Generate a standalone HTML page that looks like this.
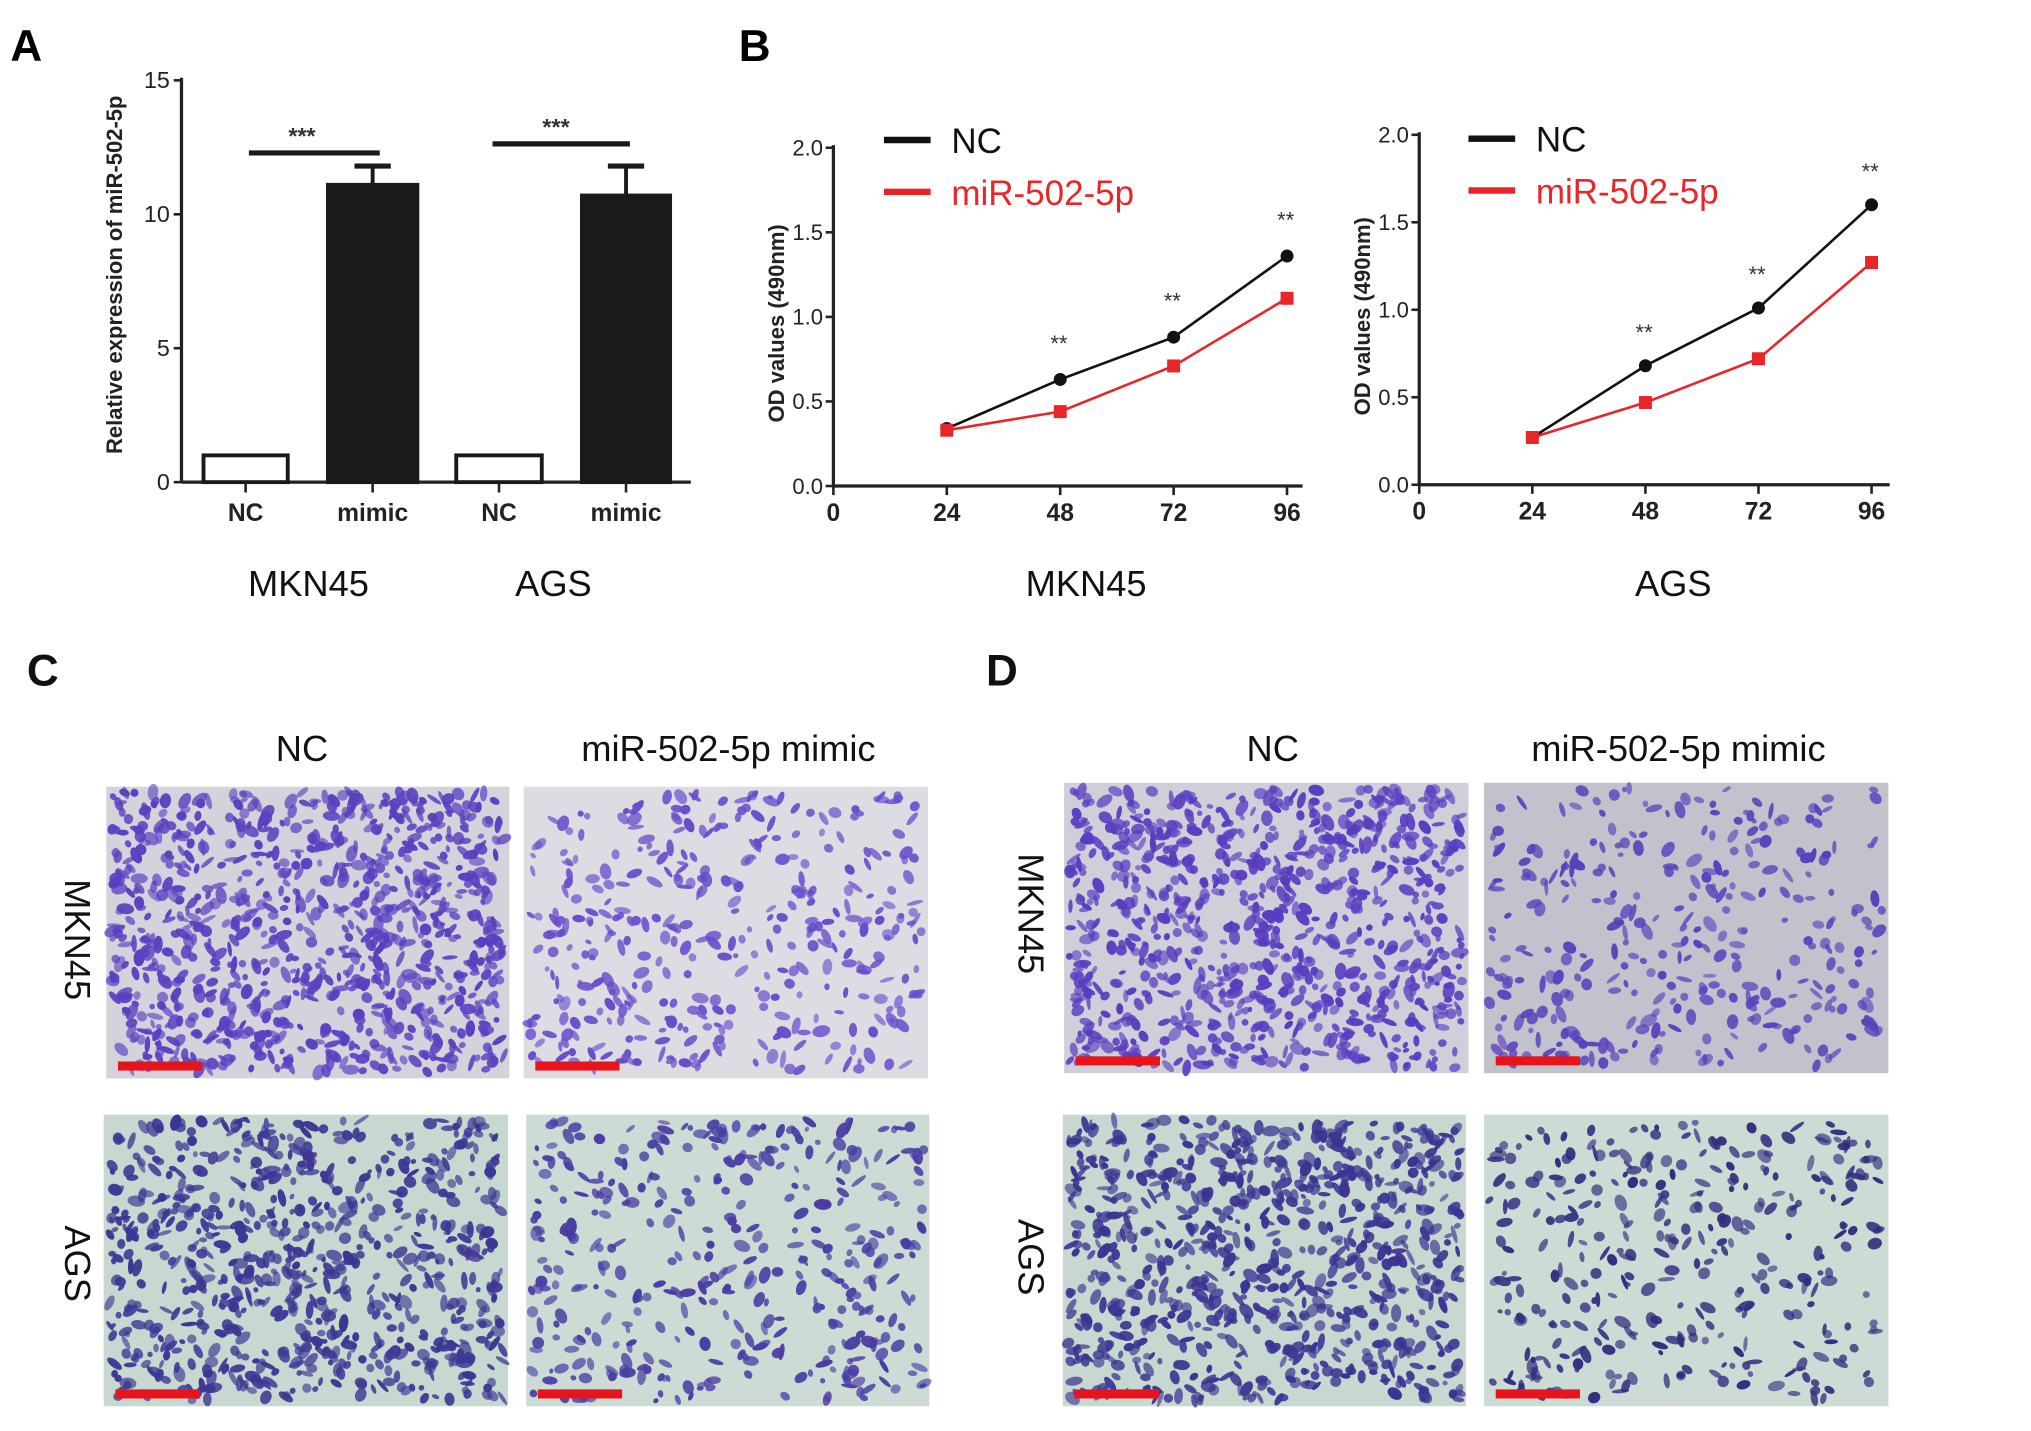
<!DOCTYPE html>
<html><head><meta charset="utf-8"><style>
html,body{margin:0;padding:0;background:#fff}
svg{display:block}
text{font-family:"Liberation Sans",sans-serif}
</style></head><body>
<svg id="fig" width="2031" height="1431" viewBox="0 0 1567 1104.1" xmlns="http://www.w3.org/2000/svg">
<g id="A"></g>
<g id="B"></g>
<g id="CD"></g>
</svg>
<script>
// Panel A data
const barCats = ["NC","mimic","NC","mimic"];
const barVals = [1, 11.1, 1, 10.7];
const barErrs = [0, 0.7, 0, 1.1];
const aTicks = [0,5,10,15];
// Panel B data
const timeCats = [24,48,72,96];
const xTicks = [0,24,48,72,96];
const yTicks = [0,0.5,1.0,1.5,2.0];
const mknNC = [0.34,0.63,0.88,1.36];
const mknMiR = [0.33,0.44,0.71,1.11];
const agsNC = [0.27,0.68,1.01,1.60];
const agsMiR = [0.27,0.47,0.72,1.27];

const NS="http://www.w3.org/2000/svg";
function mk(parent,tag,attrs,txt){const e=document.createElementNS(NS,tag);for(const k in attrs)e.setAttribute(k,attrs[k]);if(txt!==undefined)e.textContent=txt;parent.appendChild(e);return e;}

// ---------- Panel A ----------
const A=document.getElementById('A');
let t=mk(A,'text',{x:8,y:47,'font-size':34,'font-weight':'bold'},'A');


const aY=v=>372-(v/15)*310;
const barX=[157,253,352,449], barW=[65,69,66,68];
let ax=mk(A,'line',{x1:140,y1:60,x2:140,y2:372,stroke:'#222','stroke-width':2.5});


let axx=mk(A,'line',{x1:140,y1:372,x2:533,y2:372,stroke:'#222','stroke-width':2.5});


aTicks.forEach(v=>{
  mk(A,'line',{x1:134,y1:aY(v),x2:140,y2:aY(v),stroke:'#222','stroke-width':2});
  const tl=mk(A,'text',{x:131,y:aY(v)+6,'font-size':18,'text-anchor':'end',fill:'#222'},v);
  
  
});
barCats.forEach((c,i)=>{
  const x=barX[i],w=barW[i],v=barVals[i];
  const r=mk(A,'rect',{x:x,y:aY(v),width:w,height:372-aY(v),fill:i%2?'#1a1a1a':'#fff',stroke:'#1a1a1a','stroke-width':3});
  
  
  if(barErrs[i]>0){
    const cx=x+w/2;
    mk(A,'line',{x1:cx,y1:aY(v),x2:cx,y2:aY(v+barErrs[i]),stroke:'#1a1a1a','stroke-width':3});
    mk(A,'line',{x1:cx-14,y1:aY(v+barErrs[i]),x2:cx+14,y2:aY(v+barErrs[i]),stroke:'#1a1a1a','stroke-width':4});
  }
  mk(A,'line',{x1:x+w/2,y1:372,x2:x+w/2,y2:380,stroke:'#222','stroke-width':2});
  const l=mk(A,'text',{x:x+w/2,y:402,'font-size':19,'font-weight':'bold','text-anchor':'middle',fill:'#222'},c);
  
  
});
[[192,293,118,233,107],[380,486,111,429,100]].forEach((s,i)=>{
  const ln=mk(A,'line',{x1:s[0],y1:s[2],x2:s[1],y2:s[2],stroke:'#1a1a1a','stroke-width':4});
  
  
  const st=mk(A,'text',{x:s[3],y:s[4]+4,'font-size':18,'font-weight':'bold','text-anchor':'middle',fill:'#333'},'***');
  
  
});
let yt=mk(A,'text',{x:0,y:0,'font-size':17,'font-weight':'bold','text-anchor':'middle',fill:'#222',transform:'translate(94,212) rotate(-90)'},'Relative expression of miR-502-5p');


[['MKN45',238],['AGS',427]].forEach(p=>{
  const g=mk(A,'text',{x:p[1],y:460,'font-size':28,'text-anchor':'middle',fill:'#111'},p[0]);
  
  
});

// ---------- Panel B ----------
const B=document.getElementById('B');
t=mk(B,'text',{x:570,y:47,'font-size':34,'font-weight':'bold'},'B');


function lineChart(cfg,nc,mir){
  const g=mk(B,'g',{});
  
  
  const X=v=>cfg.x0+(v/96)*(cfg.x96-cfg.x0);
  const Y=v=>cfg.y0-(v/2)*(cfg.y0-cfg.y2);
  mk(g,'line',{x1:cfg.x0,y1:cfg.y2-2,x2:cfg.x0,y2:cfg.y0,stroke:'#222','stroke-width':2.5});
  mk(g,'line',{x1:cfg.x0,y1:cfg.y0,x2:cfg.xend,y2:cfg.y0,stroke:'#222','stroke-width':2.5});
  yTicks.forEach(v=>{
    mk(g,'line',{x1:cfg.x0-6,y1:Y(v),x2:cfg.x0,y2:Y(v),stroke:'#222','stroke-width':2});
    const l=mk(g,'text',{x:cfg.x0-8,y:Y(v)+6,'font-size':17,'text-anchor':'end',fill:'#222'},v.toFixed(1));
    
    
  });
  xTicks.forEach(v=>{
    mk(g,'line',{x1:X(v),y1:cfg.y0,x2:X(v),y2:cfg.y0+7,stroke:'#222','stroke-width':2});
    const l=mk(g,'text',{x:X(v),y:cfg.y0+27,'font-size':19,'font-weight':'bold','text-anchor':'middle',fill:'#222'},v);
    
    
  });
  const yl=mk(g,'text',{x:0,y:0,'font-size':17,'font-weight':'bold','text-anchor':'middle',fill:'#222',transform:`translate(${cfg.x0-38},${(cfg.y0+cfg.y2)/2+5}) rotate(-90)`},'OD  values (490nm)');
  
  
  const pm=mk(g,'polyline',{points:timeCats.map((c,i)=>X(c)+','+Y(mir[i])).join(' '),fill:'none',stroke:'#e8262a','stroke-width':2});
  
  
  const pn=mk(g,'polyline',{points:timeCats.map((c,i)=>X(c)+','+Y(nc[i])).join(' '),fill:'none',stroke:'#111','stroke-width':2});
  
  
  timeCats.forEach((c,i)=>{
    const p=mk(g,'circle',{cx:X(c),cy:Y(nc[i]),r:5,fill:'#111'});
    
    
    const q=mk(g,'rect',{x:X(c)-5,y:Y(mir[i])-5,width:10,height:10,fill:'#e8262a'});
    
    
    if(i>0){
      const s=mk(g,'text',{x:X(c)-1,y:Y(nc[i])-cfg.starOff,'font-size':17,'text-anchor':'middle',fill:'#333'},'**');
      
      
    }
  });
  mk(g,'line',{x1:cfg.lx,y1:cfg.ly,x2:cfg.lx+36,y2:cfg.ly,stroke:'#111','stroke-width':5});
  let le=mk(g,'text',{x:cfg.lx+52,y:cfg.ly+10,'font-size':27,fill:'#111'},'NC');
  
  
  mk(g,'line',{x1:cfg.lx,y1:cfg.ly+40,x2:cfg.lx+36,y2:cfg.ly+40,stroke:'#e8262a','stroke-width':5});
  le=mk(g,'text',{x:cfg.lx+52,y:cfg.ly+50,'font-size':27,fill:'#e8262a'},'miR-502-5p');
  
  
  const gl=mk(g,'text',{x:cfg.lab,y:460,'font-size':28,'text-anchor':'middle',fill:'#111'},cfg.title);
  
  
}
lineChart({name:'chart-mkn45',x0:643,x96:993,xend:1005,y0:375,y2:114,lx:682,ly:108,lab:838,title:'MKN45',starOff:22},mknNC,mknMiR);
lineChart({name:'chart-ags',x0:1095,x96:1444,xend:1458,y0:374,y2:104,lx:1133,ly:107,lab:1291,title:'AGS',starOff:20},agsNC,agsMiR);

// ---------- Panels C/D (micrograph textures) ----------
const CD=document.getElementById('CD');
let seed=12345;function rnd(){seed=(seed*1103515245+12345)%2147483648;return seed/2147483648;}
function micro(x,y,w,h,bg,col,n,name){
  const g=mk(CD,'g',{});
  
  
  mk(g,'rect',{x:x,y:y,width:w,height:h,fill:bg});
  for(let i=0;i<n;i++){
    const cx=x+4+rnd()*(w-8), cy=y+4+rnd()*(h-8), rx=2+rnd()*5, ry=1.5+rnd()*3, a=rnd()*180;
    mk(g,'ellipse',{cx:cx,cy:cy,rx:rx,ry:ry,fill:col,opacity:0.6+rnd()*0.4,transform:`rotate(${a} ${cx} ${cy})`});
  }
  const sb=mk(g,'rect',{x:x+9,y:y+h-13,width:65,height:7,fill:'#e8141c'});
  
  
}
function lbl(txt,x,y,size,rot,name,bold){
  const a={x:x,y:y,'font-size':size,'text-anchor':'middle',fill:'#111'};
  if(bold)a['font-weight']='bold';
  if(rot)a.transform=`rotate(90 ${x} ${y})`;
  const e=mk(CD,'text',a,txt);
  
  
}
lbl('C',33,529,34,false,'panel-c-letter',true);
lbl('D',773,529,34,false,'panel-d-letter',true);
lbl('NC',233,587,28,false,'c-col-nc');
lbl('miR-502-5p mimic',562,587,28,false,'c-col-mimic');
lbl('NC',982,587,28,false,'d-col-nc');
lbl('miR-502-5p mimic',1295,587,28,false,'d-col-mimic');
lbl('MKN45',50,725,28,true,'c-row-mkn45');
lbl('AGS',50,975,28,true,'c-row-ags');
lbl('MKN45',786,705,28,true,'d-row-mkn45');
lbl('AGS',786,970,28,true,'d-row-ags');
micro(82,607,311,225,'#d4d3dc','#5b3fc0',900,'c-mkn45-nc-image');
micro(404,607,312,225,'#dcdce2','#6a4ccc',380,'c-mkn45-mimic-image');
micro(80,860,312,225,'#c6d8cf','#3e3594',750,'c-ags-nc-image');
micro(406,860,311,225,'#ccdcd4','#4a3ca4',380,'c-ags-mimic-image');
micro(821,604,312,224,'#cfcfda','#5a3cc0',850,'d-mkn45-nc-image');
micro(1145,604,312,224,'#c2c2cc','#5a40bc',320,'d-mkn45-mimic-image');
micro(820,860,311,225,'#c6d8cf','#3d3392',800,'d-ags-nc-image');
micro(1145,860,312,225,'#ccdcd4','#342c80',330,'d-ags-mimic-image');
</script>
</body></html>
